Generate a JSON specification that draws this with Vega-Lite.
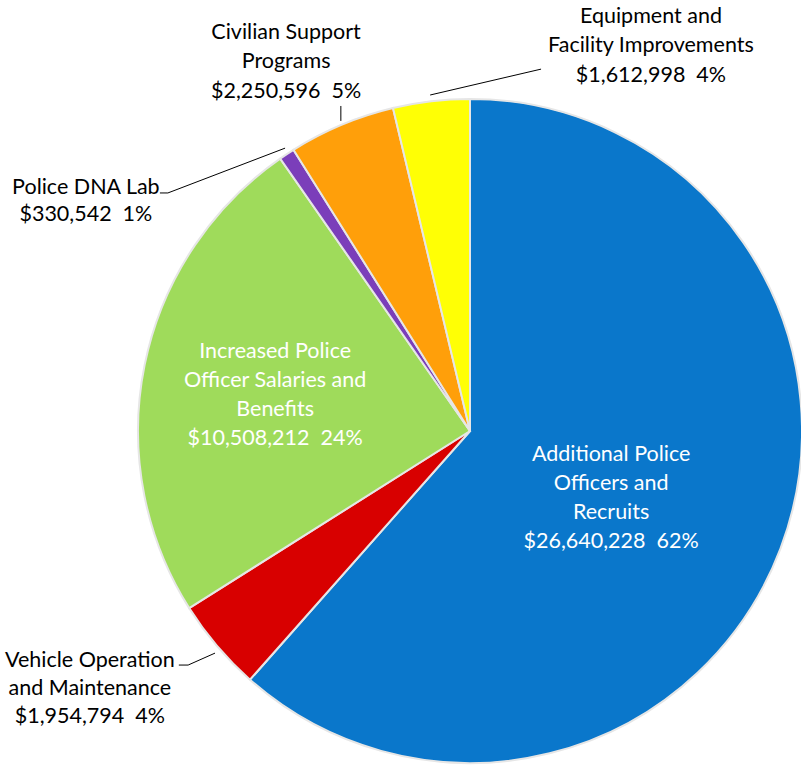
{
  "$schema": "https://vega.github.io/schema/vega-lite/v6.json",
  "width": 801,
  "height": 767,
  "autosize": "none",
  "padding": 0,
  "background": "white",
  "config": {"view": {"stroke": null}, "axis": {"disable": true}},
  "data": {"values": [
    {"item": "Additional Police Officers and Recruits", "amount": 26640228, "ord": 1, "label": "Additional Police\nOfficers and\nRecruits\n$26,640,228\u00a0 62%"},
    {"item": "Vehicle Operation and Maintenance", "amount": 1954794, "ord": 2, "label": "Vehicle Operation\nand Maintenance\n$1,954,794\u00a0 4%"},
    {"item": "Increased Police Officer Salaries and Benefits", "amount": 10508212, "ord": 3, "label": "Increased Police\nOfficer Salaries and\nBenefits\n$10,508,212\u00a0 24%"},
    {"item": "Police DNA Lab", "amount": 330542, "ord": 4, "label": "Police DNA Lab\n$330,542\u00a0 1%"},
    {"item": "Civilian Support Programs", "amount": 2250596, "ord": 5, "label": "Civilian Support\nPrograms\n$2,250,596\u00a0 5%"},
    {"item": "Equipment and Facility Improvements", "amount": 1612998, "ord": 6, "label": "Equipment and\nFacility Improvements\n$1,612,998\u00a0 4%"}
  ]},
  "layer": [
    {
      "mark": {"type": "arc", "outerRadius": 332, "stroke": "#e6e6e6", "strokeWidth": 2},
      "encoding": {
        "x": {"datum": 0, "type": "quantitative", "scale": {"domain": [-141.566, 99.699], "nice": false, "zero": false}, "axis": null},
        "y": {"datum": 0, "type": "quantitative", "scale": {"domain": [-101.205, 129.819], "nice": false, "zero": false}, "axis": null},
        "theta": {"field": "amount", "type": "quantitative", "stack": true},
        "order": {"field": "ord", "type": "quantitative"},
        "color": {"field": "item", "type": "nominal", "legend": null,
          "scale": {"domain": ["Additional Police Officers and Recruits", "Vehicle Operation and Maintenance", "Increased Police Officer Salaries and Benefits", "Police DNA Lab", "Civilian Support Programs", "Equipment and Facility Improvements"],
                    "range": ["#0A77CB", "#D80000", "#9FDB5B", "#7B3EBA", "#FF9F0A", "#FFFF05"]}}
      }
    },
    {
      "transform": [{"filter": "datum.ord == 1"}],
      "mark": {"type": "text", "font": "Lato", "fontSize": 21.5, "lineHeight": 29, "lineBreak": "\n", "align": "center", "baseline": "middle", "color": "white"},
      "encoding": {"x": {"datum": 42.5, "type": "quantitative"}, "y": {"datum": -7.23, "type": "quantitative"}, "text": {"field": "label"}}
    },
    {
      "transform": [{"filter": "datum.ord == 2"}],
      "mark": {"type": "text", "font": "Lato", "fontSize": 21.5, "lineHeight": 28, "lineBreak": "\n", "align": "center", "baseline": "middle", "color": "black"},
      "encoding": {"x": {"datum": -114.5, "type": "quantitative"}, "y": {"datum": -69.28, "type": "quantitative"}, "text": {"field": "label"}}
    },
    {
      "transform": [{"filter": "datum.ord == 3"}],
      "mark": {"type": "text", "font": "Lato", "fontSize": 21.5, "lineHeight": 29, "lineBreak": "\n", "align": "center", "baseline": "middle", "color": "white"},
      "encoding": {"x": {"datum": -58.7, "type": "quantitative"}, "y": {"datum": 23.8, "type": "quantitative"}, "text": {"field": "label"}}
    },
    {
      "transform": [{"filter": "datum.ord == 4"}],
      "mark": {"type": "text", "font": "Lato", "fontSize": 21.5, "lineHeight": 27, "lineBreak": "\n", "align": "center", "baseline": "middle", "color": "black"},
      "encoding": {"x": {"datum": -115.7, "type": "quantitative"}, "y": {"datum": 73.19, "type": "quantitative"}, "text": {"field": "label"}}
    },
    {
      "transform": [{"filter": "datum.ord == 5"}],
      "mark": {"type": "text", "font": "Lato", "fontSize": 21.5, "lineHeight": 29.5, "lineBreak": "\n", "align": "center", "baseline": "middle", "color": "black"},
      "encoding": {"x": {"datum": -55.4, "type": "quantitative"}, "y": {"datum": 119.88, "type": "quantitative"}, "text": {"field": "label"}}
    },
    {
      "transform": [{"filter": "datum.ord == 6"}],
      "mark": {"type": "text", "font": "Lato", "fontSize": 21.5, "lineHeight": 29.5, "lineBreak": "\n", "align": "center", "baseline": "middle", "color": "black"},
      "encoding": {"x": {"datum": 54.5, "type": "quantitative"}, "y": {"datum": 124.7, "type": "quantitative"}, "text": {"field": "label"}}
    },
    {
      "data": {"values": [{}]},
      "mark": {"type": "rule", "color": "black", "strokeWidth": 1},
      "encoding": {"x": {"datum": -12.0, "type": "quantitative"}, "y": {"datum": 101.2, "type": "quantitative"}, "x2": {"datum": 21.4}, "y2": {"datum": 109.0}}
    },
    {
      "data": {"values": [{}]},
      "mark": {"type": "rule", "color": "black", "strokeWidth": 1},
      "encoding": {"x": {"datum": -38.9, "type": "quantitative"}, "y": {"datum": 97.9, "type": "quantitative"}, "x2": {"datum": -38.9}, "y2": {"datum": 93.4}}
    },
    {
      "data": {"values": [{}]},
      "mark": {"type": "rule", "color": "black", "strokeWidth": 1},
      "encoding": {"x": {"datum": -93.4, "type": "quantitative"}, "y": {"datum": 71.7, "type": "quantitative"}, "x2": {"datum": -91.0}, "y2": {"datum": 71.7}}
    },
    {
      "data": {"values": [{}]},
      "mark": {"type": "rule", "color": "black", "strokeWidth": 1},
      "encoding": {"x": {"datum": -91.0, "type": "quantitative"}, "y": {"datum": 71.7, "type": "quantitative"}, "x2": {"datum": -55.7}, "y2": {"datum": 85.2}}
    },
    {
      "data": {"values": [{}]},
      "mark": {"type": "rule", "color": "black", "strokeWidth": 1},
      "encoding": {"x": {"datum": -87.7, "type": "quantitative"}, "y": {"datum": -70.5, "type": "quantitative"}, "x2": {"datum": -84.9}, "y2": {"datum": -70.5}}
    },
    {
      "data": {"values": [{}]},
      "mark": {"type": "rule", "color": "black", "strokeWidth": 1},
      "encoding": {"x": {"datum": -84.9, "type": "quantitative"}, "y": {"datum": -70.5, "type": "quantitative"}, "x2": {"datum": -76.8}, "y2": {"datum": -66.9}}
    }
  ]
}
